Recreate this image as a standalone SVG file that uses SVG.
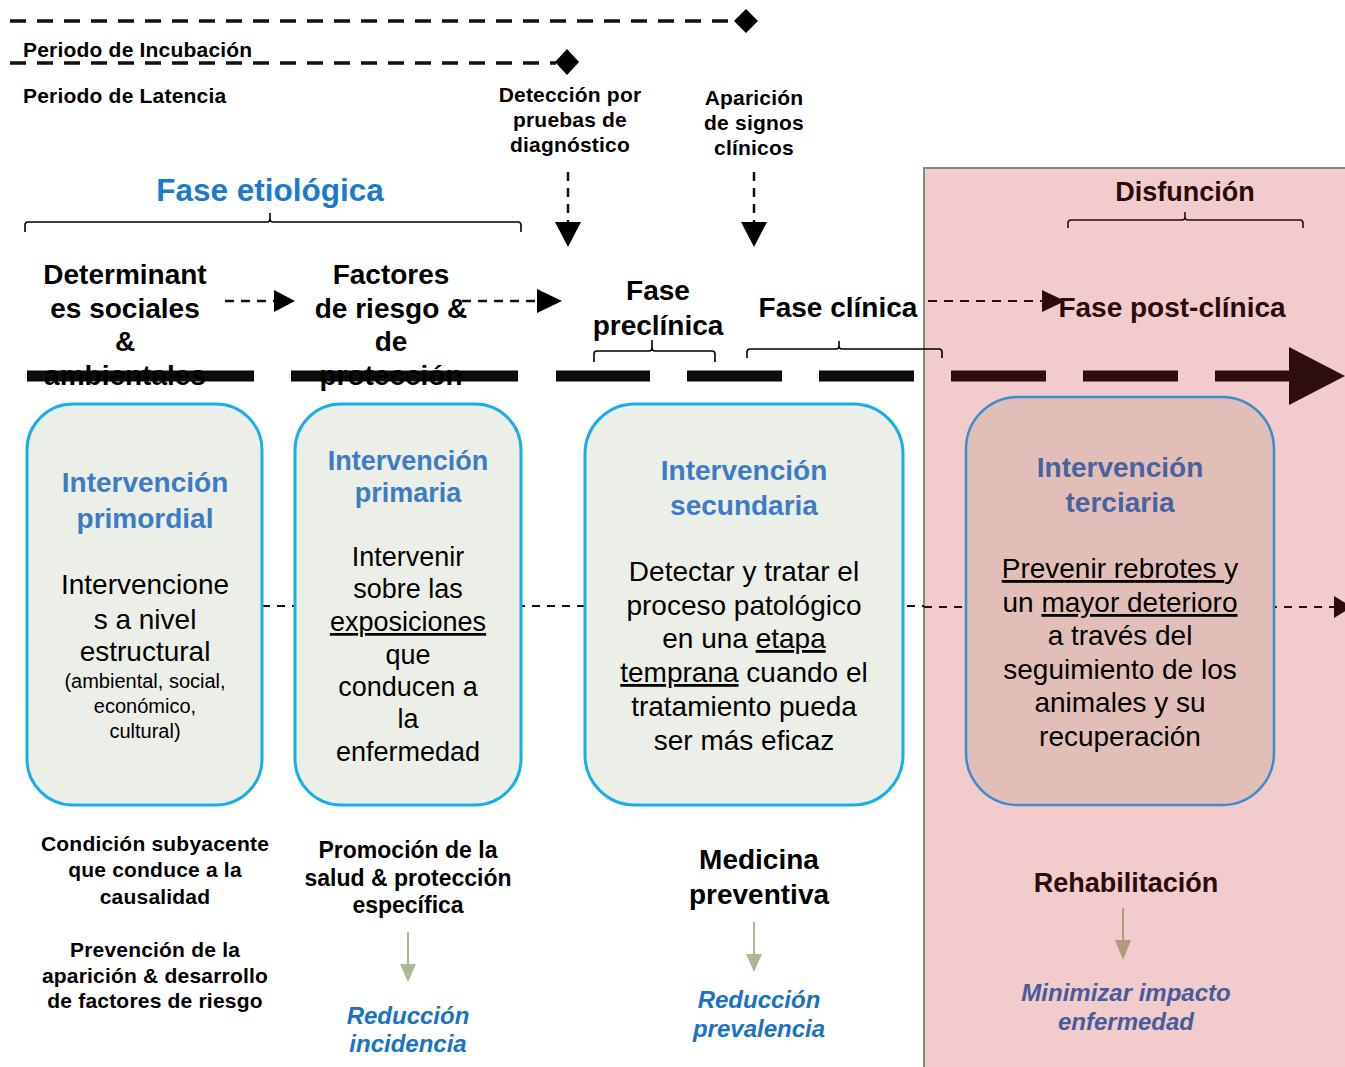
<svg xmlns="http://www.w3.org/2000/svg" width="1345" height="1067" viewBox="0 0 1345 1067">
  <style>
    text { font-family: "Liberation Sans", Arial, Helvetica, sans-serif; text-anchor: middle; fill: #000; }
    .s21 { font-size: 21px; font-weight: bold; letter-spacing: 0.2px; }
    .h28 { font-size: 28px; font-weight: bold; }
    .dark { fill: #2b0c0c; }
    .ttl { font-size: 28px; font-weight: bold; fill: #3b7cc4; }
    .body { font-size: 28px; }
    .it { font-style: italic; font-weight: bold; font-size: 24px; fill: #1a73c2; }
    .brace { fill: none; stroke: #000; stroke-width: 1.6; }
    .box { fill: #eceee8; stroke: #18aeea; stroke-width: 3; }
    .seg { stroke: #0d0d0d; stroke-width: 11; }
    .segd { stroke: #2d0d0d; stroke-width: 11; }
    .dash { fill: none; stroke: #111; stroke-width: 3.5; stroke-dasharray: 16 11; }
    .vdash { fill: none; stroke: #111; stroke-width: 2.5; stroke-dasharray: 9 7; }
    .cdash { fill: none; stroke-width: 2; stroke-dasharray: 8 7; }
  </style>

  <!-- post-clinical background panel -->
  <rect id="postclinical-panel" x="924" y="168" width="425" height="903" fill="#f2cbcc" stroke="#7f8f77" stroke-width="2"/>

  <!-- incubation / latency periods -->
  <g id="periods">
    <line class="dash" x1="10" y1="21" x2="735" y2="21"/>
    <polygon points="734,21 746,9 758,21 746,33" fill="#000"/>
    <line class="dash" x1="10" y1="63" x2="556" y2="63"/>
    <polygon points="555,62 567,49 579,62 567,75" fill="#000"/>
    <text class="s21" x="23" y="57" style="text-anchor:start">Periodo de Incubación</text>
    <text class="s21" x="23" y="103" style="text-anchor:start">Periodo de Latencia</text>
  </g>

  <g id="diagnostic-detection">
    <text class="s21" x="570" y="102">Detección por</text>
    <text class="s21" x="570" y="127">pruebas de</text>
    <text class="s21" x="570" y="152">diagnóstico</text>
  </g>
  <g id="clinical-signs">
    <text class="s21" x="754" y="105">Aparición</text>
    <text class="s21" x="754" y="130">de signos</text>
    <text class="s21" x="754" y="155">clínicos</text>
  </g>

  <!-- phase headings and braces -->
  <g id="etiological-phase">
    <text x="270" y="201" style="font-size:31.5px;font-weight:bold;fill:#1b7bcb">Fase etiológica</text>
    <path class="brace" d="M25,232 V225 Q25,222 28,222 H267 Q270,222 270,219 V213 M270,219 Q270,222 273,222 H518 Q521,222 521,225 V232"/>
  </g>
  <g id="dysfunction">
    <text class="dark" x="1185" y="201" style="font-size:27px;font-weight:bold">Disfunción</text>
    <path class="brace" d="M1068,228 V223 Q1068,220 1071,220 H1182 Q1185,220 1185,217 V212 M1185,217 Q1185,220 1188,220 H1300 Q1303,220 1303,223 V228" style="stroke:#2b0c0c"/>
  </g>

  <!-- thick timeline -->
  <g id="timeline">
    <line class="seg" x1="27" y1="376" x2="254" y2="376"/>
    <line class="seg" x1="291" y1="376" x2="518" y2="376"/>
    <line class="seg" x1="556" y1="376" x2="650" y2="376"/>
    <line class="seg" x1="687" y1="376" x2="782" y2="376"/>
    <line class="seg" x1="819" y1="376" x2="914" y2="376"/>
    <line class="segd" x1="951" y1="376" x2="1046" y2="376"/>
    <line class="segd" x1="1083" y1="376" x2="1178" y2="376"/>
    <line class="segd" x1="1215" y1="376" x2="1295" y2="376"/>
    <polygon points="1289,347 1345,376 1289,405" fill="#2d0d0d"/>
  </g>

  <g id="social-determinants">
    <text class="h28" x="125" y="284">Determinant</text>
    <text class="h28" x="125" y="318">es sociales</text>
    <text class="h28" x="125" y="351">&amp;</text>
    <text class="h28" x="125" y="385">ambientales</text>
  </g>
  <g id="risk-factors">
    <text class="h28" x="391" y="284">Factores</text>
    <text class="h28" x="391" y="318">de riesgo &amp;</text>
    <text class="h28" x="391" y="351">de</text>
    <text class="h28" x="391" y="385">protección</text>
  </g>
  <g id="preclinical-phase">
    <text class="h28" x="658" y="300">Fase</text>
    <text class="h28" x="658" y="335">preclínica</text>
    <path class="brace" d="M594,362 V354 Q594,351 597,351 H649 Q652,351 652,348 V340 M652,348 Q652,351 655,351 H712 Q715,351 715,354 V362"/>
  </g>
  <g id="clinical-phase">
    <text class="h28" x="838" y="317">Fase clínica</text>
    <path class="brace" d="M747,358 V352 Q747,349 750,349 H836 Q839,349 839,346 V341 M839,346 Q839,349 842,349 H939 Q942,349 942,352 V358"/>
  </g>
  <g id="postclinical-phase">
    <text class="h28 dark" x="1172" y="317">Fase post-clínica</text>
  </g>

  <!-- connectors -->
  <g id="connectors">
    <line class="vdash" x1="568" y1="172" x2="568" y2="224"/>
    <polygon points="555,222 581,222 568,247" fill="#000"/>
    <line class="vdash" x1="754" y1="172" x2="754" y2="224"/>
    <polygon points="741,222 767,222 754,247" fill="#000"/>

    <line class="vdash" x1="225" y1="301" x2="276" y2="301"/>
    <polygon points="274,290 295,301 274,312" fill="#000"/>
    <line class="vdash" x1="462" y1="301" x2="538" y2="301"/>
    <polygon points="537,289 562,301 537,313" fill="#000"/>
    <line class="vdash" x1="928" y1="301" x2="1045" y2="301" style="stroke:#2b0c0c;stroke-width:2"/>
    <polygon points="1042,290 1065,301 1042,312" fill="#2b0c0c"/>

    <line class="cdash" x1="262" y1="606" x2="924" y2="606" stroke="#111"/>
    <line class="cdash" x1="924" y1="607" x2="1334" y2="607" stroke="#2b0c0c"/>
    <polygon points="1334,596 1352,607 1334,618" fill="#2b0c0c"/>

    <line x1="408" y1="932" x2="408" y2="966" stroke="#a9b993" stroke-width="2"/>
    <polygon points="400,964 416,964 408,982" fill="#a9b993"/>
    <line x1="754" y1="922" x2="754" y2="956" stroke="#a9b993" stroke-width="2"/>
    <polygon points="746,954 762,954 754,972" fill="#a9b993"/>
    <line x1="1123" y1="908" x2="1123" y2="942" stroke="#b09a7e" stroke-width="2"/>
    <polygon points="1115,940 1131,940 1123,960" fill="#b09a7e"/>
  </g>

  <!-- intervention boxes -->
  <g id="primordial">
    <rect class="box" x="27" y="404" width="235" height="401" rx="46"/>
    <text class="ttl" x="145" y="492">Intervención</text>
    <text class="ttl" x="145" y="528">primordial</text>
    <text class="body" x="145" y="594">Intervencione</text>
    <text class="body" x="145" y="629">s a nivel</text>
    <text class="body" x="145" y="661">estructural</text>
    <text x="145" y="688" style="font-size:20px">(ambiental, social,</text>
    <text x="145" y="713" style="font-size:20px">económico,</text>
    <text x="145" y="738" style="font-size:20px">cultural)</text>
  </g>
  <g id="primary">
    <rect class="box" x="295" y="404" width="226" height="401" rx="46"/>
    <text class="ttl" x="408" y="470" style="font-size:27px">Intervención</text>
    <text class="ttl" x="408" y="502" style="font-size:27px">primaria</text>
    <text x="408" y="566" style="font-size:27px">Intervenir</text>
    <text x="408" y="598" style="font-size:27px">sobre las</text>
    <text x="408" y="631" style="font-size:27px" text-decoration="underline">exposiciones</text>
    <text x="408" y="664" style="font-size:27px">que</text>
    <text x="408" y="696" style="font-size:27px">conducen a</text>
    <text x="408" y="728" style="font-size:27px">la</text>
    <text x="408" y="761" style="font-size:27px">enfermedad</text>
  </g>
  <g id="secondary">
    <rect class="box" x="585" y="404" width="318" height="401" rx="50"/>
    <text class="ttl" x="744" y="480">Intervención</text>
    <text class="ttl" x="744" y="515">secundaria</text>
    <text class="body" x="744" y="581">Detectar y tratar el</text>
    <text class="body" x="744" y="615">proceso patológico</text>
    <text class="body" x="744" y="648">en una <tspan text-decoration="underline">etapa</tspan></text>
    <text class="body" x="744" y="682"><tspan text-decoration="underline">temprana</tspan> cuando el</text>
    <text class="body" x="744" y="716">tratamiento pueda</text>
    <text class="body" x="744" y="750">ser más eficaz</text>
  </g>
  <g id="tertiary">
    <rect x="966" y="397" width="308" height="408" rx="52" fill="#e2beb8" stroke="#3a8dcc" stroke-width="2.5"/>
    <text class="ttl" x="1120" y="477" style="fill:#4b62a0">Intervención</text>
    <text class="ttl" x="1120" y="512" style="fill:#4b62a0">terciaria</text>
    <text class="body" x="1120" y="578"><tspan text-decoration="underline">Prevenir rebrotes </tspan>y</text>
    <text class="body" x="1120" y="612">un <tspan text-decoration="underline">mayor deterioro</tspan></text>
    <text class="body" x="1120" y="645">a través del</text>
    <text class="body" x="1120" y="679">seguimiento de los</text>
    <text class="body" x="1120" y="712">animales y su</text>
    <text class="body" x="1120" y="746">recuperación</text>
  </g>

  <!-- outcomes -->
  <g id="underlying-condition">
    <text class="s21" x="155" y="851">Condición subyacente</text>
    <text class="s21" x="155" y="877">que conduce a la</text>
    <text class="s21" x="155" y="904">causalidad</text>
    <text class="s21" x="155" y="957">Prevención de la</text>
    <text class="s21" x="155" y="983">aparición &amp; desarrollo</text>
    <text class="s21" x="155" y="1008">de factores de riesgo</text>
  </g>
  <g id="health-promotion">
    <text x="408" y="858" style="font-size:23px;font-weight:bold">Promoción de la</text>
    <text x="408" y="886" style="font-size:23px;font-weight:bold">salud &amp; protección</text>
    <text x="408" y="913" style="font-size:23px;font-weight:bold">específica</text>
  </g>
  <g id="incidence-reduction">
    <text class="it" x="408" y="1024">Reducción</text>
    <text class="it" x="408" y="1052">incidencia</text>
  </g>
  <g id="preventive-medicine">
    <text class="h28" x="759" y="869">Medicina</text>
    <text class="h28" x="759" y="904">preventiva</text>
  </g>
  <g id="prevalence-reduction">
    <text class="it" x="759" y="1008">Reducción</text>
    <text class="it" x="759" y="1037">prevalencia</text>
  </g>
  <g id="rehabilitation">
    <text class="dark" x="1126" y="892" style="font-size:27px;font-weight:bold">Rehabilitación</text>
  </g>
  <g id="impact-minimization">
    <text class="it" x="1126" y="1001" style="fill:#4a5b9b">Minimizar impacto</text>
    <text class="it" x="1126" y="1030" style="fill:#4a5b9b">enfermedad</text>
  </g>
</svg>
